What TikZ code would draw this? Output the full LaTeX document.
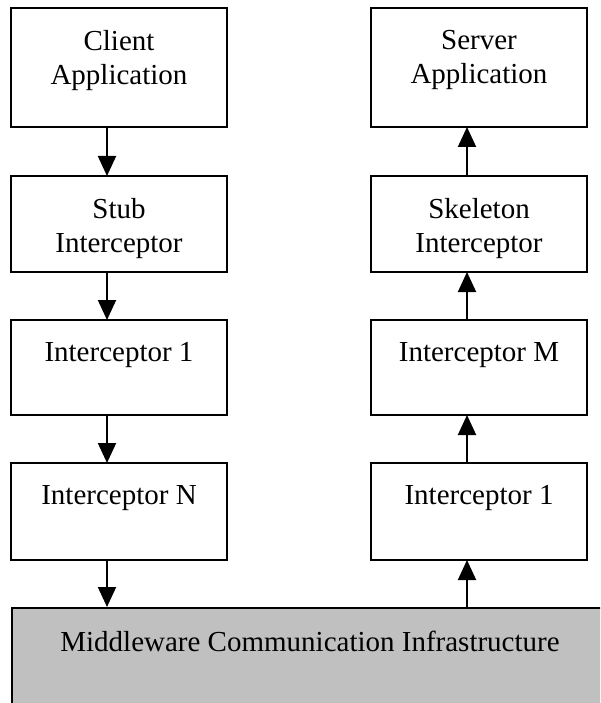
\documentclass[tikz,border=0pt]{standalone}
\usepackage{fontspec}
\setmainfont{Liberation Serif}
\usetikzlibrary{arrows.meta}
\definecolor{mwgray}{HTML}{C0C0C0}
\begin{document}
\begin{tikzpicture}[x=1pt,y=-1pt,
  box/.style={draw, line width=2pt, minimum width=216pt, inner sep=0pt, outer sep=0pt},
  lbl/.style={anchor=north, align=center, inner sep=0pt, font=\fontsize{29}{34}\selectfont},
  flow/.style={line width=2pt, -{Triangle[width=18pt,length=20pt]}}]
\useasboundingbox (0,0) rectangle (600,703);
\clip (0,0) rectangle (600,703);

% middleware layer (runs off the bottom and right edges)
\node[draw, fill=mwgray, line width=2pt, anchor=north west, inner sep=0pt,
      minimum width=620pt, minimum height=120pt] (mw) at (11,607) {};
\node[lbl, anchor=base] (mwT) at (310,651) {Middleware Communication Infrastructure};

% client side
\node[box, minimum height=119pt] (client) at (119,67.5) {};
\node[box, minimum height=96pt]  (stub)   at (119,224) {};
\node[box, minimum height=95pt]  (lint1)  at (119,367.5) {};
\node[box, minimum height=97pt]  (lintN)  at (119,511.5) {};
\node[lbl] (clientT) at ([yshift=-22pt]client.north) {Client\\Application};
\node[lbl] (stubT)   at ([yshift=-22pt]stub.north)   {Stub\\Interceptor};
\node[lbl] (lint1T)  at ([yshift=-22pt]lint1.north)  {Interceptor 1};
\node[lbl] (lintNT)  at ([yshift=-22pt]lintN.north)  {Interceptor N};

% server side
\node[box, minimum height=119pt] (server) at (479,67.5) {};
\node[box, minimum height=96pt]  (skel)   at (479,224) {};
\node[box, minimum height=95pt]  (rintM)  at (479,367.5) {};
\node[box, minimum height=97pt]  (rint1)  at (479,511.5) {};
\node[lbl] (serverT) at ([yshift=-22pt]server.north) {Server\\Application};
\node[lbl] (skelT)   at ([yshift=-22pt]skel.north)   {Skeleton\\Interceptor};
\node[lbl] (rintMT)  at ([yshift=-22pt]rintM.north)  {Interceptor M};
\node[lbl] (rint1T)  at ([yshift=-22pt]rint1.north)  {Interceptor 1};

% downward chain on the client side
\draw[flow] ([xshift=-12pt]client.south) -- ([xshift=-12pt]stub.north);
\draw[flow] ([xshift=-12pt]stub.south) -- ([xshift=-12pt]lint1.north);
\draw[flow] ([xshift=-12pt]lint1.south) -- ([xshift=-12pt]lintN.north);
\coordinate (lx) at ([xshift=-12pt]lintN.south);
\draw[flow] (lx) -- (lx |- mw.north);

% upward chain on the server side
\coordinate (rx) at ([xshift=-12pt]rint1.south);
\draw[flow] (rx |- mw.north) -- (rx);
\draw[flow] ([xshift=-12pt]rint1.north) -- ([xshift=-12pt]rintM.south);
\draw[flow] ([xshift=-12pt]rintM.north) -- ([xshift=-12pt]skel.south);
\draw[flow] ([xshift=-12pt]skel.north) -- ([xshift=-12pt]server.south);
\end{tikzpicture}
\end{document}
